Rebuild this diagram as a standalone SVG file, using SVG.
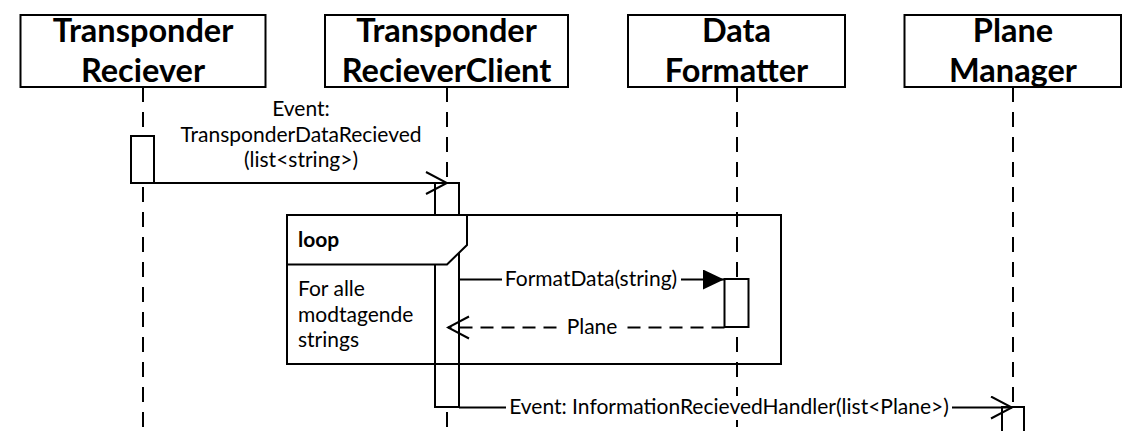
<svg xmlns="http://www.w3.org/2000/svg" width="1139" height="431" viewBox="0 0 1139 431">
<style>
.box{fill:#fff;stroke:#000;stroke-width:2}
.life{stroke:#000;stroke-width:2;stroke-dasharray:15 10;fill:none}
.act{fill:#fff;stroke:#000;stroke-width:2}
.msg{stroke:#000;stroke-width:2;fill:none}
.ret{stroke:#000;stroke-width:2;fill:none;stroke-dasharray:13 8}
.hd{font-family:Lato,"Open Sans",sans-serif;font-weight:bold;font-size:32.5px;text-anchor:middle;fill:#000}
.lb{font-family:Lato,"Open Sans",sans-serif;font-size:21px;fill:#000}
.mid{text-anchor:middle}
.bg{fill:#fff}
</style>
<defs>
<marker id="open" markerUnits="userSpaceOnUse" markerWidth="24" markerHeight="26" refX="22" refY="12" orient="auto" viewBox="0 0 24 26">
<path d="M1,1 L22,12 L1,23" fill="none" stroke="#000" stroke-width="2"/>
</marker>
<marker id="filled" markerUnits="userSpaceOnUse" markerWidth="22" markerHeight="22" refX="21" refY="10" orient="auto" viewBox="0 0 22 22">
<path d="M0,0 L21,10 L0,20 Z" fill="#000"/>
</marker>
</defs>

<g id="lifelines">
<line class="life" x1="143" y1="87" x2="143" y2="431"/>
<line class="life" x1="447" y1="87" x2="447" y2="431"/>
<line class="life" x1="737" y1="87" x2="737" y2="431"/>
<line class="life" x1="1013" y1="87" x2="1013" y2="431"/>
</g>

<g id="node-transponder-reciever">
<rect class="box" x="20.5" y="15" width="245" height="72"/>
<text class="hd" x="143" y="42">Transponder</text>
<text class="hd" x="143" y="81.5">Reciever</text>
<rect class="act" x="131" y="136" width="23" height="47"/>
</g>

<g id="node-transponder-reciever-client">
<rect class="box" x="325" y="15" width="243" height="72"/>
<text class="hd" x="446.5" y="42">Transponder</text>
<text class="hd" x="446.5" y="81.5">RecieverClient</text>
<rect class="act" x="435" y="183" width="24" height="224"/>
</g>

<g id="node-data-formatter">
<rect class="box" x="628" y="15" width="217" height="72"/>
<text class="hd" x="736.5" y="42">Data</text>
<text class="hd" x="736.5" y="81.5">Formatter</text>
<rect class="act" x="724.5" y="279" width="24" height="48"/>
</g>

<g id="node-plane-manager">
<rect class="box" x="904.5" y="15" width="216.5" height="72"/>
<text class="hd" x="1013" y="42">Plane</text>
<text class="hd" x="1013" y="81.5">Manager</text>
<rect class="act" x="1002" y="407" width="22" height="30"/>
</g>

<g id="loop-frame">
<rect x="287" y="215" width="494" height="149" fill="none" stroke="#000" stroke-width="2"/>
<path d="M287,215 L467,215 L467,245 L447,264.5 L287,264.5 Z" fill="#fff" stroke="#000" stroke-width="2"/>
<text class="lb" x="298" y="247" font-weight="bold">loop</text>
<text class="lb" x="298" y="296">For alle</text>
<text class="lb" x="298" y="322">modtagende</text>
<text class="lb" x="298" y="347">strings</text>
</g>

<g id="connectors">
<line class="msg" x1="154" y1="183" x2="447" y2="183" marker-end="url(#open)"/>
<text class="lb mid" x="301" y="116">Event:</text>
<text class="lb mid" x="301" y="142">TransponderDataRecieved</text>
<text class="lb mid" x="301" y="167">(list&lt;string&gt;)</text>

<line class="msg" x1="459" y1="279.5" x2="724" y2="279.5" marker-end="url(#filled)"/>
<rect class="bg" x="502" y="268" width="179" height="24"/>
<text class="lb mid" x="591" y="286">FormatData(string)</text>

<line class="ret" x1="724.5" y1="327.5" x2="448" y2="327.5" marker-end="url(#open)"/>
<rect class="bg" x="564" y="316" width="56" height="24"/>
<text class="lb mid" x="592" y="334">Plane</text>

<line class="msg" x1="459" y1="407.5" x2="1012" y2="407.5" marker-end="url(#open)"/>
<rect class="bg" x="506" y="396" width="446" height="24"/>
<text class="lb mid" x="729" y="414">Event: InformationRecievedHandler(list&lt;Plane&gt;)</text>
</g>
</svg>
